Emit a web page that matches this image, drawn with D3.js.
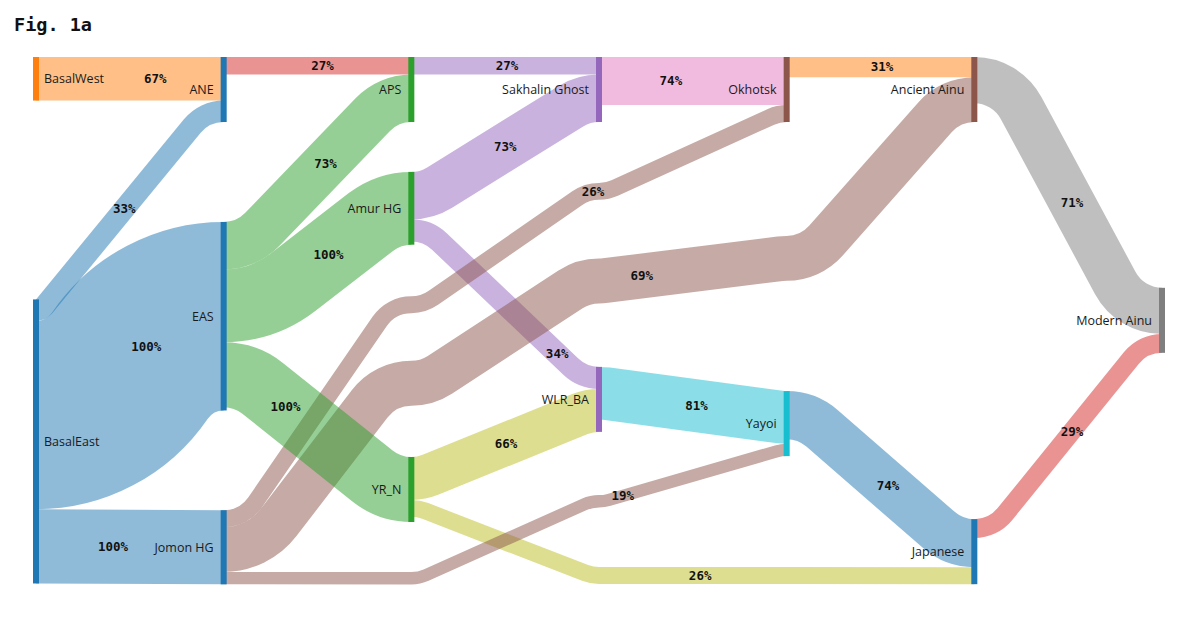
<!DOCTYPE html>
<html><head><meta charset="utf-8">
<script src="https://cdn.jsdelivr.net/npm/d3@7"></script>
<style>body{margin:0;background:#fff}svg{display:block}</style>
</head><body>
<svg id="chart" width="1200" height="625"></svg>
<script>
// ---------------- data ----------------
const nodeNames = ["BasalWest","BasalEast","ANE","EAS","Jomon HG","APS","Amur HG","YR_N",
  "Sakhalin Ghost","WLR_BA","Okhotsk","Yayoi","Ancient Ainu","Japanese","Modern Ainu"];
const linkSources = ["BasalWest","BasalEast","BasalEast","BasalEast","ANE","APS","Amur HG","Amur HG",
  "Sakhalin Ghost","WLR_BA","Okhotsk","Yayoi","YR_N","YR_N","Ancient Ainu","Japanese",
  "Jomon HG","Jomon HG","Jomon HG","EAS","EAS","EAS"];
const linkTargets = ["ANE","ANE","EAS","Jomon HG","APS","Sakhalin Ghost","Sakhalin Ghost","WLR_BA",
  "Okhotsk","Yayoi","Ancient Ainu","Japanese","WLR_BA","Japanese","Modern Ainu","Modern Ainu",
  "Okhotsk","Ancient Ainu","Yayoi","APS","Amur HG","YR_N"];
const linkValues = [67,33,290,114,27,27,73,34,74,81,31,74,66,26,71,29,26,69,19,73,112,100];
const linkLabels = ["67%","33%","100%","100%","27%","27%","73%","34%","74%","81%","31%","74%","66%","26%",
  "71%","29%","26%","69%","19%","73%","100%","100%"];
const titleText = "Fig. 1a";

// ---------------- layout options ----------------
const nodeColumn = {"BasalWest":0,"BasalEast":0,"ANE":1,"EAS":1,"Jomon HG":1,"APS":2,"Amur HG":2,"YR_N":2,
  "Sakhalin Ghost":3,"WLR_BA":3,"Okhotsk":4,"Yayoi":4,"Ancient Ainu":5,"Japanese":5,"Modern Ainu":6};
const nodeTop = {"BasalWest":0,"BasalEast":0.460,"ANE":0,"EAS":0.313,"Jomon HG":0.860,"APS":0,"Amur HG":0.218,
  "YR_N":0.759,"Sakhalin Ghost":0,"WLR_BA":0.588,"Okhotsk":0,"Yayoi":0.634,"Ancient Ainu":0,"Japanese":0.877,"Modern Ainu":0.438};
// intermediate routing points (band centre, fraction of plot height) for links spanning several columns
const via = {13:[0.984,0.984],16:[0.470,0.255],17:[0.619,0.425,0.382],18:[0.989,0.843]};
const labelAt = {0:0.636,1:0.47,2:0.588,3:0.41,4:0.527,5:0.51,6:0.5,7:0.777,8:0.383,9:0.52,10:0.508,11:0.54,
  12:0.505,13:0.513,14:0.52,15:0.52,16:0.656,17:0.557,18:0.709,19:0.543,20:0.559,21:0.33};
const nodeColor = {"BasalWest":"#ff7f0e","BasalEast":"#1f77b4","ANE":"#1f77b4","EAS":"#1f77b4","Jomon HG":"#1f77b4",
  "APS":"#2ca02c","Amur HG":"#2ca02c","YR_N":"#2ca02c","Sakhalin Ghost":"#9467bd","WLR_BA":"#9467bd",
  "Okhotsk":"#8c564b","Yayoi":"#17becf","Ancient Ainu":"#8c564b","Japanese":"#1f77b4","Modern Ainu":"#7f7f7f"};
const linkColor = {"BasalWest":"#ff7f0e","BasalEast":"#1f77b4","ANE":"#d62728","EAS":"#2ca02c","APS":"#9467bd",
  "Amur HG":"#9467bd","Sakhalin Ghost":"#e377c2","Jomon HG":"#8c564b","YR_N":"#bcbd22","WLR_BA":"#17becf",
  "Okhotsk":"#ff7f0e","Yayoi":"#1f77b4","Ancient Ainu":"#7f7f7f","Japanese":"#d62728"};

const W = 1200, H = 625, NODE_W = 6, K = 30;
const x = d3.scaleLinear().domain([0,6]).range([33,1159]);
const y = d3.scaleLinear().domain([0,1]).range([57,584]);
const wScale = d3.scaleLinear().domain([0,100]).range([0,65]);

const svg = d3.select("#chart");

// nodes
const nodes = nodeNames.map(n => ({name:n, col:nodeColumn[n], ins:[], outs:[]}));
const byName = new Map(nodes.map(d => [d.name, d]));
const links = linkSources.map((s,i) => ({i, source:byName.get(s), target:byName.get(linkTargets[i]),
  value:linkValues[i], label:linkLabels[i], w:wScale(linkValues[i])}));
links.forEach(l => { l.source.outs.push(l); l.target.ins.push(l); });
nodes.forEach(n => {
  n.value = Math.max(d3.sum(n.ins, l => l.value), d3.sum(n.outs, l => l.value));
  n.x = x(n.col); n.y0 = y(nodeTop[n.name]); n.y1 = n.y0 + wScale(n.value);
});
// neighbour y used for ordering links at a node
links.forEach(l => {
  const v = via[l.i] || [];
  l.nextY = v.length ? y(v[0]) : l.target.y0;
  l.prevY = v.length ? y(v[v.length-1]) : l.source.y0;
});
nodes.forEach(n => {
  let c = n.y0;
  n.outs.slice().sort((a,b) => a.nextY - b.nextY || a.i - b.i).forEach(l => { l.sy = c + l.w/2; c += l.w; });
  c = n.y0;
  n.ins.slice().sort((a,b) => a.prevY - b.prevY || a.i - b.i).forEach(l => { l.ty = c + l.w/2; c += l.w; });
});
// build segments
const portGroups = new Map();
function addPort(key, seg, end) {
  if (!portGroups.has(key)) portGroups.set(key, []);
  portGroups.get(key).push({seg, end});
}
links.forEach(l => {
  const v = via[l.i] || [];
  const pts = [{x:l.source.x + NODE_W/2, y:l.sy}];
  v.forEach((f,k) => pts.push({x:x(l.source.col + k + 1) + NODE_W/2, y:y(f)}));
  pts.push({x:l.target.x + NODE_W/2, y:l.ty});
  l.segs = [];
  for (let k = 0; k < pts.length-1; k++) {
    const seg = {x0:pts[k].x, y0:pts[k].y, x1:pts[k+1].x, y1:pts[k+1].y, w:l.w};
    l.segs.push(seg);
    addPort(k === 0 ? "out:" + l.source.name : "wpo:" + l.i + ":" + k, seg, 0);
    addPort(k === pts.length-2 ? "in:" + l.target.name : "wpi:" + l.i + ":" + (k+1), seg, 1);
  }
});
// radii: concentric bundles per port and turning direction
portGroups.forEach(list => {
  [-1, 1].forEach(s => {
    const g = list.filter(p => { const dy = p.seg.y1 - p.seg.y0; return Math.abs(dy) >= 0.5 && Math.sign(dy) === s; });
    if (!g.length) return;
    const key = p => p.end === 0 ? p.seg.y0 : p.seg.y1;
    const isOut = g[0].end === 0;
    const asc = isOut ? (s < 0) : (s > 0);
    g.sort((a,b) => asc ? key(a) - key(b) : key(b) - key(a));
    let prev = null;
    g.forEach(p => {
      p.r = prev ? prev.r + prev.seg.w/2 + p.seg.w/2 : p.seg.w/2 + K;
      const dx = p.seg.x1 - p.seg.x0, dy = p.seg.y1 - p.seg.y0;
      p.rmax = (dx*dx + dy*dy) / (4*Math.abs(dy));
      prev = p;
    });
    const excess = d3.max(g, p => p.r - p.rmax);
    g.forEach(p => {
      let r = excess > 0 ? p.r - excess : p.r;
      r = Math.max(r, p.seg.w/2);
      if (p.end === 0) p.seg.r0 = r; else p.seg.r1 = r;
    });
  });
});
function segPath(sg, first) {
  const {x0,y0,x1,y1} = sg;
  let r0 = sg.r0 || 0, r1 = sg.r1 || 0;
  const dx = x1-x0, dy = y1-y0, ady = Math.abs(dy);
  let p = first ? `M${x0},${y0}` : "";
  if (ady < 0.5) return p + `L${x1},${y1}`;
  const s = dy > 0 ? 1 : -1;
  const Rtot = (dx*dx + dy*dy) / (2*ady);
  let R = r0 + r1;
  if (R > Rtot) { const f = Rtot / R * 0.9999; r0 *= f; r1 *= f; R = r0 + r1; }
  const A = dx, B = R - ady;
  const th = Math.asin(Math.min(1, R / Math.hypot(A,B))) - Math.atan2(B, A);
  const t1x = x0 + r0*Math.sin(th), t1y = y0 + s*r0*(1-Math.cos(th));
  const t2x = x1 - r1*Math.sin(th), t2y = y1 - s*r1*(1-Math.cos(th));
  const sw1 = s > 0 ? 1 : 0, sw2 = s > 0 ? 0 : 1;
  return p + `A${r0},${r0} 0 0 ${sw1} ${t1x},${t1y}L${t2x},${t2y}A${r1},${r1} 0 0 ${sw2} ${x1},${y1}`;
}
links.forEach(l => { l.d = l.segs.map((sg,k) => segPath(sg, k === 0)).join(""); });

// draw links
const linkSel = svg.append("g").selectAll("path").data(links).join("path")
  .attr("d", d => d.d).attr("fill", "none")
  .attr("stroke", d => linkColor[d.source.name]).attr("stroke-opacity", 0.5)
  .attr("stroke-width", d => d.w);

// nodes
svg.append("g").selectAll("rect").data(nodes).join("rect")
  .attr("x", d => d.x).attr("y", d => d.y0).attr("width", NODE_W).attr("height", d => d.y1 - d.y0)
  .attr("fill", d => nodeColor[d.name]);
svg.append("g").selectAll("text").data(nodes).join("text")
  .attr("x", d => d.col === 0 ? d.x + 11 : d.x - 7)
  .attr("y", d => (d.y0 + d.y1)/2)
  .attr("dy", "0.35em")
  .attr("text-anchor", d => d.col === 0 ? "start" : "end")
  .style("font-family", "'Open Sans', sans-serif").style("font-size", "12.5px").attr("fill", "#1a1a1a")
  .text(d => d.name);

// link labels
const lbl = svg.append("g");
linkSel.each(function(d) {
  const el = this, len = el.getTotalLength();
  const x0 = d.source.x + NODE_W/2, x1 = d.target.x + NODE_W/2;
  const tx = x0 + (labelAt[d.i] ?? 0.5) * (x1 - x0);
  let lo = 0, hi = len;
  for (let k = 0; k < 40; k++) { const m = (lo+hi)/2; if (el.getPointAtLength(m).x < tx) lo = m; else hi = m; }
  const pt = el.getPointAtLength((lo+hi)/2);
  lbl.append("text").attr("x", pt.x).attr("y", pt.y).attr("dy", "0.35em").attr("text-anchor", "middle")
    .style("font-family", "'DejaVu Sans Mono', monospace").style("font-weight", "bold").style("font-size", "12.5px")
    .attr("fill", "#111").text(d.label);
});

svg.append("text").attr("x", 14).attr("y", 31)
  .style("font-family", "'DejaVu Sans Mono', monospace").style("font-weight", "bold").style("font-size", "18.5px")
  .attr("fill", "#111").text(titleText);
</script>
</body></html>
